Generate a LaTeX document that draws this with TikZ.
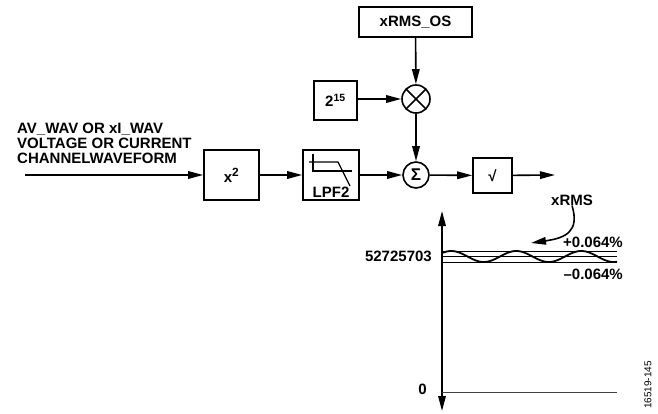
\documentclass[tikz,border=0pt]{standalone}
\usepackage{fontspec}
\setmainfont{Liberation Sans}
\usetikzlibrary{arrows.meta,shapes,positioning,calc}

\begin{document}
\begin{tikzpicture}[
    x=1pt, y=-1pt,
    >={Triangle[length=15pt,width=7.5pt]},
    blk/.style={draw, rectangle, line width=1.6pt, inner sep=0pt,
        font=\fontsize{15}{15}\selectfont\bfseries},
    opcirc/.style={draw, circle, line width=1.6pt, inner sep=0pt,
        font=\fontsize{17}{17}\selectfont\bfseries},
    lbl/.style={font=\fontsize{15}{15}\selectfont\bfseries, inner sep=0pt},
    sig/.style={->, line width=1.6pt},
    thinln/.style={line width=0.9pt}
]
\useasboundingbox (0,0) rectangle (658,414);

% signal chain
\node[lbl, anchor=north west, align=left] (inlbl) at (17,123)
    {AV\_WAV OR xI\_WAV\\VOLTAGE OR CURRENT\\CHANNELWAVEFORM};
\coordinate (in) at (25,175);
\node[blk, minimum width=55pt, minimum height=50pt] (sq) at (231.5,175) {x{\fontsize{17}{17}\selectfont\textsuperscript{2}}};
\node[blk, minimum width=56pt, minimum height=50pt] (lpf) at (331,175) {};
\node[lbl, anchor=base] (lpflbl) at (331,197) {LPF2};
\node[opcirc, minimum size=26pt] (sum) at (416,175) {Σ};
\node[blk, minimum width=39pt, minimum height=35pt] (sqrt) at (492.5,175.5) {√};
\coordinate (out) at (555,175);

% offset path
\node[blk, minimum width=113pt, minimum height=30pt] (os) at (415.5,22) {xRMS\_OS};
\node[opcirc, minimum size=28pt,
    path picture={\draw[line width=1.6pt]
        (path picture bounding box.north west) -- (path picture bounding box.south east)
        (path picture bounding box.south west) -- (path picture bounding box.north east);}]
    (mul) at (416,99) {};
\node[blk, minimum width=43pt, minimum height=39pt] (pow) at (335.5,100.5) {2\textsuperscript{15}};

% filter symbol
\draw[line width=1.3pt] (313,154) -- (313,171) -- (352,171);
\draw[line width=1.3pt] (309,162) -- (338,162) -- (350,186);

\draw[sig] (in) -- (sq);
\draw[sig] (sq) -- (lpf);
\draw[sig] (lpf) -- (sum);
\draw[sig] (sum) -- (sqrt);
\draw[sig] (sqrt) -- (out);
\draw[sig] (os) -- (mul);
\draw[sig] (pow.east |- mul) -- (mul);
\draw[sig] (mul) -- (sum);

% output plot
\coordinate (axtop) at (442,211);
\coordinate (axbot) at (442,411);
\coordinate (zl) at (442,392);
\coordinate (zr) at (617,392);
\draw[{Triangle[length=15pt,width=7.5pt]}-{Triangle[length=15pt,width=7.5pt]}, line width=1.6pt] (axtop) -- (axbot);
\draw[thinln, black!75] (zl) -- (zr);
\draw[thinln] (442,251) -- (617,251);
\draw[line width=0.6pt] (442,256.5) -- (617,256.5);
\draw[thinln] (442,262) -- (617,262);
\draw[line width=1.8pt] plot[domain=0:175, samples=120, smooth]
    ({442+\x}, {256.5-5.5*sin(5.5385*(\x+7))});

\node[lbl, anchor=east] (lvl) at (432,256.5) {52725703};
\node[lbl, anchor=east] (pos) at (623,242) {+0.064\%};
\node[lbl, anchor=east] (neg) at (623,274) {–0.064\%};
\node[lbl] (xrms) at (572,200) {xRMS};
\node[lbl, anchor=east] (zero) at (427,389) {0};
\coordinate (xtip) at (531,243);
\draw[sig] (xrms.south) .. controls (580,232) and (565,238) .. (xtip);

\node[font=\fontsize{10}{10}\selectfont, rotate=90, inner sep=0pt] (fig) at (648,385) {16519-145};

\end{tikzpicture}
\end{document}
